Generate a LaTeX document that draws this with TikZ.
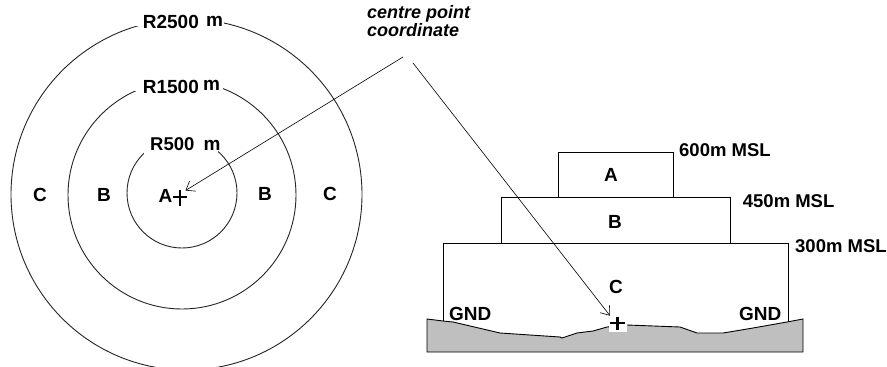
\documentclass[tikz,border=0pt]{standalone}
\usepackage{fontspec}
\setmainfont{Liberation Sans}
\usetikzlibrary{arrows.meta}
\begin{document}
\begin{tikzpicture}[x=1pt,y=-1pt,
  lbl/.style={inner sep=0pt,font=\fontsize{19}{15}\selectfont\bfseries},
  lblw/.style={lbl,anchor=base west},
  msl/.style={lblw,font=\fontsize{18.5}{15}\selectfont\bfseries},
  ring/.style={draw=black!85,line width=0.9pt},
  edge/.style={draw=black,line width=0.9pt},
  pointer/.style={draw=black,line width=0.6pt,-{Straight Barb[length=8pt,width=12pt,line width=0.6pt]}},
  cross/.style={draw=black,line width=2.2pt}]
\clip (0,0) rectangle (887,367);
\fill[white] (0,0) rectangle (887,367);

% ---- left: plan view rings ----
\draw[ring] (186.5,194.5) circle[radius=175.5];
\draw[ring] (182,195) circle[radius=114];
\draw[ring] (182,193) circle[radius=55];

\fill[white] (135,10) rectangle (224,25.5);
\fill[white] (132,74) rectangle (223,91);
\fill[white] (143.5,128) rectangle (217.5,154);

\node[lblw] (r2500) at (142.7,28.3) {R2500};
\node[lblw] (m2500) at (206,26.7) {m};
\node[lblw] (r1500) at (142.7,93.3) {R1500};
\node[lblw] (m1500) at (203,90) {m};
\node[lblw,font=\fontsize{18.5}{15}\selectfont\bfseries] (r500) at (150,150) {R500};
\node[lblw] (m500) at (203.5,150) {m};

\node[lblw] (cl) at (33,201) {C};
\node[lblw] (bl) at (97,201) {B};
\node[lblw] (al) at (158.3,202.7) {A};
\node[lblw] (br) at (258,200.5) {B};
\node[lblw] (cr) at (323,200.5) {C};

\coordinate (pc) at (180,196.7);
\draw[cross] (173.3,196.7) -- (187.3,196.7) (180,190) -- (180,206);

% ---- right: section view ----
\draw[edge] (558.3,197.3) -- (558.3,152.3) -- (673.3,152.3) -- (673.3,197.3);
\draw[edge] (501,243.7) -- (501,197.3) -- (730.7,197.3) -- (730.7,243.7);
\draw[edge] (443.3,321) -- (443.3,243.7) -- (788.3,243.7) -- (788.3,322);

\path[draw=black,line width=0.9pt,fill=black!25]
  (427,319) -- (443,321) -- (453,322) -- (500,333) -- (560,337) -- (562,338)
  -- (577,333) -- (593,331) -- (607,327) -- (627,325) -- (680,327) -- (697,333)
  -- (723,333) -- (753,328) -- (787,322) -- (803,319) -- (803,352) -- (427,352) -- cycle;

\fill[white] (609,317) rectangle (627,331.5);
\coordinate (pg) at (617.5,323.3);
\draw[cross] (610,323.3) -- (625,323.3) (617.5,316.5) -- (617.5,330);

\node[lbl] (za) at (611,174.5) {A};
\node[lbl] (zb) at (615,222) {B};
\node[lbl] (zc) at (616,287) {C};
\node[msl] (h600) at (679,156) {600m MSL};
\node[msl] (h450) at (742.7,207.7) {450m MSL};
\node[msl] (h300) at (795,252.7) {300m MSL};
\node[lblw] (gl) at (449,320) {GND};
\node[lblw] (gr) at (739,320) {GND};

% ---- callout ----
\node[inner sep=0pt,anchor=base west,align=left,
  font=\fontsize{18}{15}\selectfont\bfseries\itshape] (cpc) at (367,36.7)
  {centre point\\coordinate};
\coordinate (s1) at (403,57);
\coordinate (s2) at (413,63);
\coordinate (t1) at (185.5,190.5);
\coordinate (t2) at (610,315.7);
\draw[pointer] (s1) -- (t1);
\draw[pointer] (s2) -- (t2);
\end{tikzpicture}
\end{document}
